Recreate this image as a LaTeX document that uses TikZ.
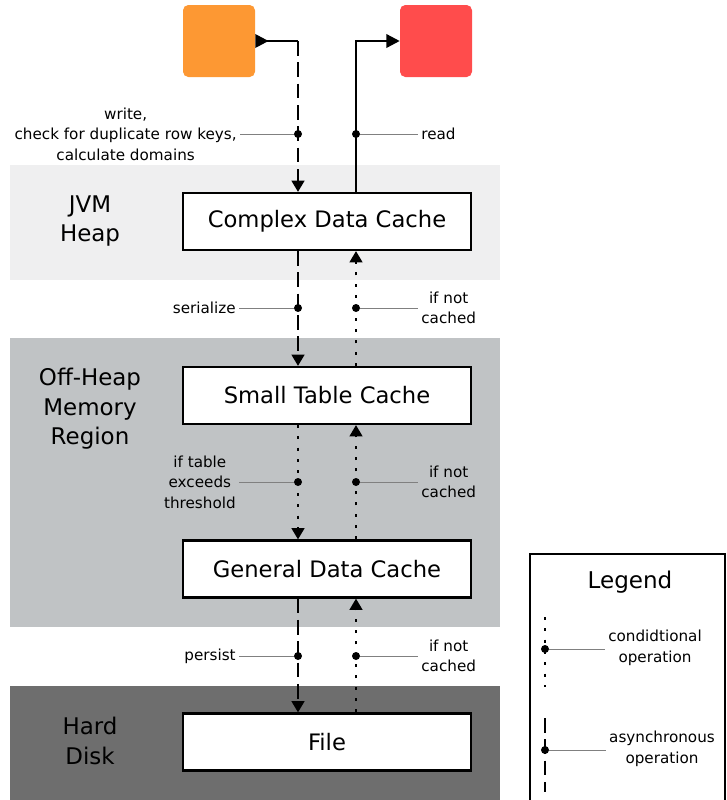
\documentclass[tikz,border=0pt]{standalone}
\usepackage{fontspec}
\setmainfont{DejaVu Sans}
\usetikzlibrary{arrows.meta}
\definecolor{orangebox}{RGB}{253,152,51}
\definecolor{redbox}{RGB}{255,76,76}
\definecolor{bandA}{RGB}{239,239,240}
\definecolor{bandB}{RGB}{192,195,197}
\definecolor{bandC}{RGB}{110,110,110}
\definecolor{leadergray}{RGB}{128,128,128}
\begin{document}
\begin{tikzpicture}[x=0.75pt,y=-0.75pt,
  cache/.style={draw, line width=1.6pt, fill=white, minimum width=216pt, minimum height=42.75pt, inner sep=0pt, font=\fontsize{17}{20}\selectfont},
  srcbox/.style={rounded corners=4pt, minimum width=54pt, minimum height=54pt, inner sep=0pt},
  solidline/.style={line width=1.8pt},
  asyncarrow/.style={line width=1.8pt, dash pattern=on 11pt off 5pt, -{Triangle[width=9.5pt,length=8.5pt]}},
  condarrow/.style={line width=1.8pt, dash pattern=on 2.25pt off 6.25pt, -{Triangle[width=9.5pt,length=8.5pt]}},
  asyncline/.style={line width=1.8pt, dash pattern=on 11pt off 5pt},
  condline/.style={line width=1.8pt, dash pattern=on 2.25pt off 6.25pt},
  dot/.style={circle, fill, inner sep=0pt, minimum size=6pt},
  leader/.style={draw=leadergray, line width=0.75pt},
  lbl/.style={font=\fontsize{11.4}{15.4}\selectfont, align=center, inner sep=0pt, outer sep=2.5pt},
  band/.style={font=\fontsize{17.2}{22}\selectfont, align=center, inner sep=0pt},
]
\useasboundingbox (0,0) rectangle (726,800);
\clip (0,0) rectangle (726,800);
% bands
\fill[bandA] (10,165) rectangle (500,280);
\fill[bandB] (10,338) rectangle (500,627);
\fill[bandC] (10,686) rectangle (500,805);
\node[band] (jvm) at (90,221) {JVM\\Heap};
\node[band] (offheap) at (90,409) {Off-Heap\\Memory\\Region};
\node[band] (hdd) at (90,741) {Hard\\Disk};
% columns
\coordinate (wx) at (298,0);
\coordinate (rx) at (356,0);
% boxes
\node[srcbox, fill=orangebox] (orange) at (219,41) {};
\node[srcbox, fill=redbox] (red) at (436,41) {};
\node[cache] (cdc) at (327,221.5) {Complex Data Cache};
\node[cache] (stc) at (327,395.5) {Small Table Cache};
\node[cache] (gdc) at (327,569) {General Data Cache};
\node[cache] (file) at (327,742) {File};
% top connectors
\draw[solidline, {Triangle[reversed,width=10pt,length=10pt]}-] (orange.east) -- (wx |- orange.east);
\draw[asyncarrow] (wx |- orange.east) -- (cdc.north -| wx);
\draw[solidline, -{Triangle[width=10pt,length=10pt]}] (cdc.north -| rx) |- (red.west);
% level connectors
\draw[asyncarrow] (cdc.south -| wx) -- (stc.north -| wx);
\draw[condarrow] (stc.north -| rx) -- (cdc.south -| rx);
\draw[condarrow] (stc.south -| wx) -- (gdc.north -| wx);
\draw[condarrow] (gdc.north -| rx) -- (stc.south -| rx);
\draw[asyncarrow] (gdc.south -| wx) -- (file.north -| wx);
\draw[condarrow] (file.north -| rx) -- (gdc.south -| rx);
% dots
\node[dot] (w1) at (298,134) {};
\node[dot] (r1) at (356,134) {};
\node[dot] (w2) at (298,308) {};
\node[dot] (r2) at (356,308) {};
\node[dot] (w3) at (298,482) {};
\node[dot] (r3) at (356,482) {};
\node[dot] (w4) at (298,656) {};
\node[dot] (r4) at (356,656) {};
% labels
\node[lbl, anchor=east] (lw1) at (240,134) {write,\\check for duplicate row keys,\\calculate domains};
\node[lbl, anchor=west] (lr1) at (418,134) {read};
\node[lbl, anchor=east] (lw2) at (239,308) {serialize};
\node[lbl, anchor=west] (lr2) at (418,308) {if not\\cached};
\node[lbl, anchor=east] (lw3) at (239,482) {if table\\exceeds\\threshold};
\node[lbl, anchor=west] (lr3) at (418,482) {if not\\cached};
\node[lbl, anchor=east] (lw4) at (239,656) {persist};
\node[lbl, anchor=west] (lr4) at (418,656) {if not\\cached};
\draw[leader] (w1) -- (lw1.east);
\draw[leader] (r1) -- (lr1.west);
\draw[leader] (w2) -- (lw2.east);
\draw[leader] (r2) -- (lr2.west);
\draw[leader] (w3) -- (lw3.east);
\draw[leader] (r3) -- (lr3.west);
\draw[leader] (w4) -- (lw4.east);
\draw[leader] (r4) -- (lr4.west);
% legend
\draw[line width=1.6pt] (530,554) rectangle (725,810);
\node[font=\fontsize{17.3}{20}\selectfont, inner sep=0pt] (legtitle) at (630,582) {Legend};
\coordinate (c1) at (545,617);
\coordinate (c2) at (545,687);
\draw[condline] (c1) -- (c2);
\node[dot] (cd) at (545,649) {};
\node[lbl] (clab) at (655,648) {condidtional\\operation};
\draw[leader] (cd) -- (cd -| clab.west);
\coordinate (a1) at (545,718);
\coordinate (a2) at (545,792);
\draw[asyncline] (a1) -- (a2);
\node[dot] (ad) at (545,750) {};
\node[lbl] (alab) at (662,749) {asynchronous\\operation};
\draw[leader] (ad) -- (ad -| alab.west);
\end{tikzpicture}
\end{document}
